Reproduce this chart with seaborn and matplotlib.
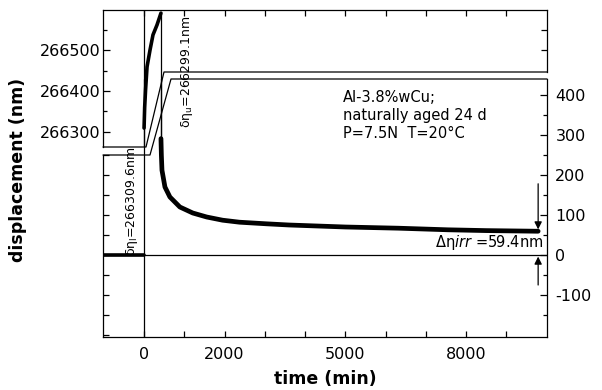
import numpy as np
import pandas as pd
import matplotlib
matplotlib.use("Agg")
import matplotlib.pyplot as plt
import seaborn as sns
from matplotlib.lines import Line2D
from matplotlib.ticker import FixedLocator, FixedFormatter, NullFormatter

# ---------------- data ----------------
base_t = [-1000, 0]
base_v = [0, 0]
load_t = [0, 15, 37, 74, 148, 222, 321, 420]
load_v = [266309.6, 266360, 266402, 266459, 266500, 266537, 266561, 266590]
rec_t = [420, 430, 445, 519, 642, 889, 1210, 1556, 1951, 2370, 3037, 3600,
         5000, 6320, 7550, 8500, 9790]
rec_v = [291, 250, 212, 170, 145, 120, 105, 95, 87, 82, 78, 75,
         70, 67, 63, 61, 59.4]
x_ticks = [0, 1000, 2000, 3000, 4000, 5000, 6000, 7000, 8000, 9000]
x_labels = ["0", "", "2000", "", "", "5000", "", "", "8000", ""]
top_ticks = [266300, 266400, 266500]
low_ticks = [-100, 0, 100, 200, 300, 400]

base = pd.DataFrame({"t": base_t, "v": base_v})
load = pd.DataFrame({"t": load_t, "v": load_v})
rec = pd.DataFrame({"t": rec_t, "v": rec_v})

sns.set_style("ticks")
plt.rcParams["font.family"] = ["DejaVu Sans"]
for k in ("text.color", "axes.labelcolor", "xtick.color", "ytick.color",
          "axes.edgecolor"):
    plt.rcParams[k] = "black"

W, H = 602, 390
fig = plt.figure(figsize=(W / 100, H / 100), dpi=100)

def fx(x):
    return x / W

def fy(y):
    return 1 - y / H

L, R = 103, 547
ax_low = fig.add_axes([fx(L), fy(337), fx(R) - fx(L), fy(79) - fy(337)])
ax_top = fig.add_axes([fx(L), fy(147), fx(R) - fx(L), fy(10) - fy(147)])
for a in (ax_low, ax_top):
    a.set_facecolor("none")
    a.set_xlim(-1020, 10010)
    for s in a.spines.values():
        s.set_linewidth(0.9)
        s.set_color("black")

ax_low.set_ylim(-205, 440)
ax_top.set_ylim(266263.4, 266597.6)

# ---------------- data marks ----------------
for a in (ax_low, ax_top):
    a.axvline(0, color="k", lw=0.9)
    a.vlines(420, 291, 266590, color="k", lw=0.9)
    sns.lineplot(data=load, x="t", y="v", ax=a, color="k", lw=2.6,
                 sort=False, estimator=None)
    sns.lineplot(data=rec, x="t", y="v", ax=a, color="k", lw=3.4,
                 sort=False, estimator=None)
    sns.lineplot(data=base, x="t", y="v", ax=a, color="k", lw=2.6,
                 sort=False, estimator=None)
    a.set_xlabel("")
    a.set_ylabel("")
ax_low.axhline(0, color="k", lw=0.9)

# ---------------- spines ----------------
ax_top.spines["bottom"].set_visible(False)
ax_top.spines["right"].set_bounds(266446.3, 266597.6)
ax_low.spines["top"].set_visible(False)
ax_low.spines["left"].set_bounds(-205, 250)

# ---------------- ticks ----------------
fs = 11.5
ax_top.xaxis.set_major_locator(FixedLocator(x_ticks))
ax_top.tick_params(axis="x", top=True, bottom=False, labeltop=False,
                   labelbottom=False, direction="in", length=4, width=0.9)
ax_top.yaxis.set_major_locator(FixedLocator(top_ticks))
ax_top.yaxis.set_minor_locator(FixedLocator([266350, 266450, 266550]))
ax_top.yaxis.set_major_formatter(FixedFormatter([str(v) for v in top_ticks]))
ax_top.tick_params(axis="y", which="both", left=True, right=False,
                   direction="in", width=0.9, labelsize=fs, pad=2)
ax_top.tick_params(axis="y", which="major", length=5)
ax_top.tick_params(axis="y", which="minor", length=3)
sec_tr = ax_top.secondary_yaxis("right")
sec_tr.set_yticks([266500, 266550])
sec_tr.yaxis.set_major_formatter(NullFormatter())
sec_tr.tick_params(direction="in", length=4, width=0.9)
sec_tr.spines["right"].set_visible(False)

ax_low.xaxis.set_major_locator(FixedLocator(x_ticks))
ax_low.xaxis.set_major_formatter(FixedFormatter(x_labels))
ax_low.tick_params(axis="x", top=False, bottom=True, direction="in",
                   length=4, width=0.9, labelsize=fs, pad=7)
ax_low.yaxis.set_major_locator(FixedLocator(low_ticks))
ax_low.yaxis.set_minor_locator(FixedLocator([-150, -50, 50, 150, 250, 350]))
ax_low.yaxis.set_major_formatter(FixedFormatter([str(v) for v in low_ticks]))
ax_low.tick_params(axis="y", which="both", left=False, right=True,
                   labelleft=False, labelright=True, direction="in",
                   width=0.9, labelsize=fs, pad=6)
ax_low.tick_params(axis="y", which="major", length=5)
ax_low.tick_params(axis="y", which="minor", length=3)
sec_ll = ax_low.secondary_yaxis("left")
sec_ll.set_yticks([-200, -150, -100, -50, 0, 50, 100, 150, 200, 250])
sec_ll.yaxis.set_major_formatter(NullFormatter())
sec_ll.tick_params(direction="in", length=4, width=0.9)
sec_ll.spines["left"].set_visible(False)

# ---------------- break outlines ----------------
brk_top = [(L, 147), (146, 147), (164, 72), (R, 72)]
brk_low = [(L, 155), (150, 155), (171, 79), (R, 79)]
for pts in (brk_top, brk_low):
    fig.add_artist(Line2D([fx(p[0]) for p in pts], [fy(p[1]) for p in pts],
                          color="k", lw=0.9, transform=fig.transFigure))

# ---------------- annotations ----------------
ax_low.text(4943, 412, "Al-3.8%wCu;\nnaturally aged 24 d\nP=7.5N  T=20°C",
            ha="left", va="top", fontsize=10.5, linespacing=1.25)
ax_low.text(9915, 32, r"Δη$\mathit{irr}$ =59.4nm", ha="right", va="center",
            fontsize=10.5)
ax_low.annotate("", xy=(9790, 64), xytext=(9790, 178),
                arrowprops=dict(arrowstyle="-|>", color="k", lw=0.9,
                                mutation_scale=11, shrinkA=0, shrinkB=0))
ax_low.annotate("", xy=(9790, -4), xytext=(9790, -75),
                arrowprops=dict(arrowstyle="-|>", color="k", lw=0.9,
                                mutation_scale=11, shrinkA=0, shrinkB=0))
ax_low.text(-300, 135, r"δη$_\mathrm{l}$=266309.6nm", rotation=90,
            ha="center", va="center", fontsize=9)
ax_top.text(1070, 266446, r"δη$_\mathrm{u}$=266299.1nm", rotation=90,
            ha="center", va="center", fontsize=9)

fig.text(fx(18), fy(170), "displacement (nm)", rotation=90, ha="center",
         va="center", fontsize=12.5, fontweight="bold")
fig.text(fx(325), fy(379), "time (min)", ha="center", va="center",
         fontsize=12.5, fontweight="bold")

fig.savefig("out.png", dpi=100)
